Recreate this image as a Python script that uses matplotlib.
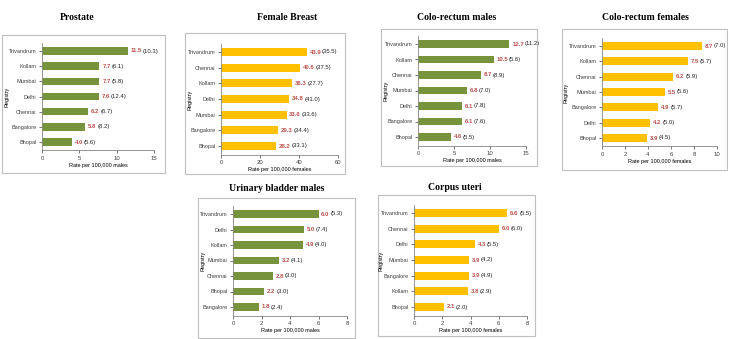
"""
Leading cancer sites by registry - six small horizontal bar panels.
Age-adjusted rate (red) with the earlier period's rate in brackets.
"""

import matplotlib
matplotlib.use('Agg')
import matplotlib.pyplot as plt
from matplotlib.patches import Rectangle
import numpy as np

W, H = 730, 339

GREEN = '#77933C'
YELLOW = '#FFC000'
RED = '#C0504D'
BOX = '#BFBFBF'

# Data (top to bottom as shown)
prostate_reg = ['Trivandrum', 'Kollam', 'Mumbai', 'Delhi', 'Chennai', 'Bangalore', 'Bhopal']
prostate_now = [11.5, 7.7, 7.7, 7.6, 6.2, 5.8, 4.0]
prostate_old = [10.3, 6.1, 5.8, 12.4, 6.7, 8.2, 5.6]

breast_reg = ['Trivandrum', 'Chennai', 'Kollam', 'Delhi', 'Mumbai', 'Bangalore', 'Bhopal']
breast_now = [43.9, 40.6, 36.3, 34.8, 33.6, 29.3, 28.2]
breast_old = [35.5, 37.5, 27.7, 41.0, 33.6, 34.4, 33.1]

crm_reg = ['Trivandrum', 'Kollam', 'Chennai', 'Mumbai', 'Delhi', 'Bangalore', 'Bhopal']
crm_now = [12.7, 10.5, 8.7, 6.8, 6.1, 6.1, 4.6]
crm_old = [11.2, 5.6, 8.9, 7.0, 7.8, 7.6, 5.5]

crf_reg = ['Trivandrum', 'Kollam', 'Chennai', 'Mumbai', 'Bangalore', 'Delhi', 'Bhopal']
crf_now = [8.7, 7.5, 6.2, 5.5, 4.9, 4.2, 3.9]
crf_old = [7.0, 5.7, 5.9, 5.6, 5.7, 5.0, 4.5]

ubm_reg = ['Trivandrum', 'Delhi', 'Kollam', 'Mumbai', 'Chennai', 'Bhopal', 'Bangalore']
ubm_now = [6.0, 5.0, 4.9, 3.2, 2.8, 2.2, 1.8]
ubm_old = [5.3, 7.4, 4.0, 4.1, 3.0, 3.0, 2.4]

cu_reg = ['Trivandrum', 'Chennai', 'Delhi', 'Mumbai', 'Bangalore', 'Kollam', 'Bhopal']
cu_now = [6.6, 6.0, 4.3, 3.9, 3.9, 3.8, 2.1]
cu_old = [5.5, 6.0, 5.5, 4.2, 4.9, 2.9, 2.0]

MALES = 'Rate per 100,000 males'
FEMALES = 'Rate per 100,000 females'

# (title, regs, now, old, color, xmax, xticks, xlabel,
#  plot px (x0, x1, y_top_bar, y_bottom_bar), box px (x0, y0, x1, y1), title px, ylabel x)
PANELS = [
    ('Prostate', prostate_reg, prostate_now, prostate_old, GREEN, 15, [0, 5, 10, 15], MALES,
     (42, 154, 51, 142), (2, 35, 165, 173), (77, 18), 7),
    ('Female Breast', breast_reg, breast_now, breast_old, YELLOW, 60, [0, 20, 40, 60], FEMALES,
     (221, 338, 52, 146), (185, 33, 345, 174), (287, 18), 190),
    ('Colo-rectum males', crm_reg, crm_now, crm_old, GREEN, 15, [0, 5, 10, 15], MALES,
     (418, 526, 44, 137), (381, 29, 537, 166), (457, 17), 386),
    ('Colo-rectum females', crf_reg, crf_now, crf_old, YELLOW, 10, [0, 2, 4, 6, 8, 10], FEMALES,
     (602, 717, 46, 138), (562, 29, 727, 170), (645, 17), 566),
    ('Urinary bladder males', ubm_reg, ubm_now, ubm_old, GREEN, 8, [0, 2, 4, 6, 8], MALES,
     (233, 347, 214, 307), (198, 198, 355, 338), (277, 188), 203),
    ('Corpus uteri', cu_reg, cu_now, cu_old, YELLOW, 8, [0, 2, 4, 6, 8], FEMALES,
     (414, 527, 213, 307), (378, 195, 535, 336), (455, 187), 381),
]

SANS = ['Liberation Sans', 'DejaVu Sans']
SERIF = ['Liberation Serif', 'DejaVu Serif']


def draw_panel(fig, p):
    title, regs, now, old, color, xmax, xticks, xlabel, plot_px, box_px, title_px, ylab_x = p
    x0, x1, ytop_bar, ybot_bar = plot_px
    n = len(regs)
    s = (ybot_bar - ytop_bar) / (n - 1)
    top = ytop_bar - 0.5 * s
    bottom = ybot_bar + 0.55 * s

    # chart area border
    bx0, by0, bx1, by1 = box_px
    fig.patches.append(Rectangle((bx0 / W, 1 - by1 / H), (bx1 - bx0) / W, (by1 - by0) / H,
                                 transform=fig.transFigure, fill=False,
                                 edgecolor=BOX, linewidth=0.8))

    ax = fig.add_axes([x0 / W, 1 - bottom / H, (x1 - x0) / W, (bottom - top) / H])
    ypos = np.arange(n)[::-1]
    ax.barh(ypos, now, height=0.5, color=color)
    ax.set_xlim(0, xmax)
    ax.set_ylim(-0.55, n - 0.5)
    ax.set_xticks(xticks)
    ax.set_xticklabels([str(t) for t in xticks], fontsize=4.3, family=SANS)
    ax.set_yticks(ypos)
    ax.set_yticklabels(regs, fontsize=4, family=SANS)
    ax.tick_params(axis='both', length=2, width=0.5, pad=2, colors='#404040')
    for side in ('top', 'right'):
        ax.spines[side].set_visible(False)
    for side in ('left', 'bottom'):
        ax.spines[side].set_color('#868686')
        ax.spines[side].set_linewidth(0.6)
    ax.set_xlabel(xlabel, fontsize=4, family=SANS, labelpad=1.5)

    for y, v, o in zip(ypos, now, old):
        t = ax.annotate(f'{v:.1f}', xy=(v, y), xytext=(2, 0), textcoords='offset points',
                        va='center', ha='left', fontsize=4.3, color=RED,
                        fontweight='bold', family=SANS)
        ax.annotate(f'({o:.1f})', xy=(1, 0.5), xycoords=t, xytext=(0.6, 0),
                    textcoords='offset points', va='center', ha='left',
                    fontsize=4.3, color='#262626', family=SANS)

    tx, ty = title_px
    fig.text(tx / W, 1 - ty / H, title, ha='center', va='center', fontsize=7,
             fontweight='bold', family=SERIF)
    fig.text(ylab_x / W, 1 - (top + bottom) / 2 / H, 'Registry', rotation=90,
             ha='center', va='center', fontsize=4, family=SANS)


def main():
    fig = plt.figure(figsize=(W / 100, H / 100), dpi=100)
    fig.patch.set_facecolor('white')
    for p in PANELS:
        draw_panel(fig, p)
    fig.savefig('out.png', dpi=100)


if __name__ == '__main__':
    main()
